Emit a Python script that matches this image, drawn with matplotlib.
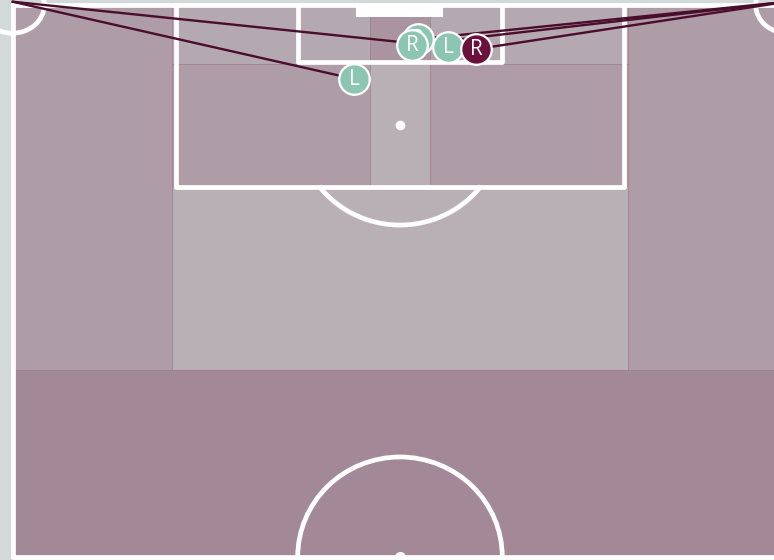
import numpy as np
import matplotlib
matplotlib.use("Agg")
import matplotlib.pyplot as plt
from matplotlib.patches import Rectangle, Ellipse
from matplotlib.colors import LinearSegmentedColormap

# pitch units: x across the width (0-100), y = distance from the goal line (0-50)
col_edges = [0, 20.6, 46.1, 53.9, 79.4, 100]
row_edges = [0, 5.3, 16.4, 33.1, 50]

# zones as (first col, last col + 1, first row, last row + 1)
zone_cols = [(0, 1), (4, 5), (1, 2), (2, 3), (3, 4), (1, 2), (2, 3), (3, 4), (1, 4), (0, 5)]
zone_rows = [(0, 3), (0, 3), (0, 1), (0, 1), (0, 1), (1, 2), (1, 2), (1, 2), (2, 3), (3, 4)]
zone_share = [0.50, 0.50, 0.17, 0.73, 0.17, 0.50, 0.0, 0.50, 0.0, 1.0]

# corner deliveries
corner_side = ["right", "right", "left", "left", "right"]
corner_foot = ["R", "R", "L", "L", "R"]
end_x = [52.3, 51.6, 44.1, 56.2, 59.8]
end_y = [3.1, 3.6, 6.7, 3.8, 4.0]
highlight = [False, False, False, False, True]

BG = "#d2d9d9"
LINE = "white"
zone_cmap = LinearSegmentedColormap.from_list("zones", ["#b9b0b6", "#a38997"])

fig = plt.figure(figsize=(7.74, 5.60), dpi=100, facecolor=BG)
ax = fig.add_axes([0, 0, 1, 1])
ax.set_facecolor(BG)
ax.set_xlim(-1.613, 98.26)
ax.set_ylim(50.27, -0.453)
ax.axis("off")

# zone shading
for (c0, c1), (r0, r1), v in zip(zone_cols, zone_rows, zone_share):
    x0, x1 = col_edges[c0], col_edges[c1]
    y0, y1 = row_edges[r0], row_edges[r1]
    ax.add_patch(Rectangle((x0, y0), x1 - x0, y1 - y0, facecolor=zone_cmap(v),
                           edgecolor="#a07a8e", lw=0.45, zorder=1))

# pitch markings
lw = 3.4
ax.plot([0, 100, 100, 0, 0], [0, 0, 50, 50, 0], color=LINE, lw=lw, zorder=2)
ax.plot([21.1, 21.1, 78.9, 78.9], [0, 16.45, 16.45, 0], color=LINE, lw=lw, zorder=2)
ax.plot([36.8, 36.8, 63.2, 63.2], [0, 5.15, 5.15, 0], color=LINE, lw=lw, zorder=2)
ax.add_patch(Rectangle((44.3, -0.2), 11.2, 1.25, facecolor=LINE, edgecolor="none", zorder=2))

rx, ry = 13.2, 9.06
spot_y = 10.87
ax.plot([50], [spot_y], "o", color=LINE, ms=7, mec="none", zorder=2)
ax.plot([50], [50], "o", color=LINE, ms=8, mec="none", zorder=2)
# D outside the box
th = np.linspace(0, np.pi, 200)
dx = 50 + rx * np.cos(th)
dy = spot_y + ry * np.sin(th)
keep = dy >= 16.45
ax.plot(dx[keep], dy[keep], color=LINE, lw=lw, zorder=2)
ax.add_patch(Ellipse((50, 50), 2 * rx, 2 * ry, fill=False, edgecolor=LINE, lw=lw, zorder=2))
ax.add_patch(Ellipse((0, 0), 2 * 4.1, 2 * 2.55, fill=False, edgecolor=LINE, lw=lw, zorder=2))
ax.add_patch(Ellipse((100, 0), 2 * 4.1, 2 * 2.55, fill=False, edgecolor=LINE, lw=lw, zorder=2))

# delivery lines and end points
for side, x, y in zip(corner_side, end_x, end_y):
    sx = 0 if side == "left" else 100
    ax.plot([sx, x], [-0.3, y], color="#4a0d2c", lw=1.7, solid_capstyle="round", zorder=3)

for i, (foot, x, y, hl) in enumerate(zip(corner_foot, end_x, end_y, highlight)):
    fc = "#6b0f3d" if hl else "#8cc6b3"
    z = 4 + 2 * i
    ax.plot([x], [y], "o", ms=22, mfc=fc, mec="white", mew=1.6, zorder=z)
    ax.text(x, y + 0.05, foot, color="white", fontsize=15, family=["Open Sans", "DejaVu Sans"],
            ha="center", va="center", zorder=z + 1)

fig.savefig("out.png", dpi=100, facecolor=BG)
